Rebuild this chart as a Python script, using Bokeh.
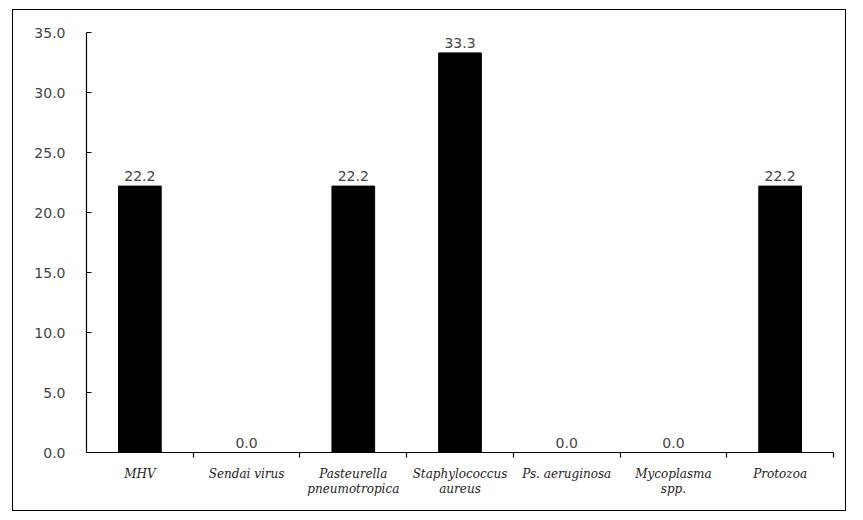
from bokeh.plotting import figure
from bokeh.models import FixedTicker, Range1d, ColumnDataSource, CustomJSTickFormatter
from bokeh.core.properties import value
from bokeh.embed import file_html
from bokeh.resources import INLINE

categories = ["MHV", "Sendai virus", "Pasteurella\npneumotropica", "Staphylococcus\naureus",
              "Ps. aeruginosa", "Mycoplasma\nspp.", "Protozoa"]
values = [22.2, 0.0, 22.2, 33.3, 0.0, 0.0, 22.2]
y_ticks = [0, 5, 10, 15, 20, 25, 30, 35]

xs = [i + 0.5 for i in range(len(categories))]
labels = ["%.1f" % v for v in values]
src = ColumnDataSource(dict(x=xs, top=values, label=labels))

p = figure(width=832, height=500, output_backend="svg", toolbar_location=None,
           x_range=Range1d(0, len(categories)), y_range=Range1d(0, 35),
           min_border_left=73, min_border_right=12, min_border_top=22, min_border_bottom=58,
           margin=(10, 0, 0, 13))
p.styles = {"outline": "1.5px solid black"}
p.outline_line_color = None
p.xgrid.visible = False
p.ygrid.visible = False
p.background_fill_color = None
p.border_fill_color = "white"

p.vbar(x="x", top="top", bottom=0, width=0.4, source=src, color="black")
p.text(x="x", y="top", text="label", source=src, text_align="center", text_baseline="bottom",
       y_offset=-5, text_font=value("DejaVu Sans"), text_font_size="14px", text_color="#444444")

# y axis
p.yaxis.ticker = FixedTicker(ticks=y_ticks, minor_ticks=[])
p.yaxis.formatter = CustomJSTickFormatter(code="return tick.toFixed(1);")
p.yaxis.major_tick_in = 5
p.yaxis.major_tick_out = 0
p.yaxis.major_tick_line_color = "black"
p.yaxis.major_tick_line_width = 1.2
p.yaxis.minor_tick_line_color = None
p.yaxis.major_label_standoff = 21
p.yaxis.major_label_text_font = "DejaVu Sans"
p.yaxis.major_label_text_font_size = "14px"
p.yaxis.major_label_text_color = "#444444"
p.yaxis.axis_line_color = "black"
p.yaxis.axis_line_width = 1.2

# x axis: labels at centers, ticks at boundaries
p.xaxis.ticker = FixedTicker(ticks=xs, minor_ticks=list(range(1, len(categories) + 1)))
p.xaxis.major_label_overrides = {x: c for x, c in zip(xs, categories)}
p.xaxis.major_tick_in = 0
p.xaxis.major_tick_out = 0
p.xaxis.minor_tick_in = 0
p.xaxis.minor_tick_out = 5
p.xaxis.minor_tick_line_color = "black"
p.xaxis.minor_tick_line_width = 1.2
p.xaxis.axis_line_width = 1.2
p.xaxis.major_label_standoff = 9
p.xaxis.major_label_text_font = "DejaVu Serif"
p.xaxis.major_label_text_font_style = "italic"
p.xaxis.major_label_text_font_size = "12px"
p.xaxis.major_label_text_color = "#222222"
p.xaxis.major_label_text_line_height = 1.1

open("out.html", "w").write(file_html(p, INLINE))
